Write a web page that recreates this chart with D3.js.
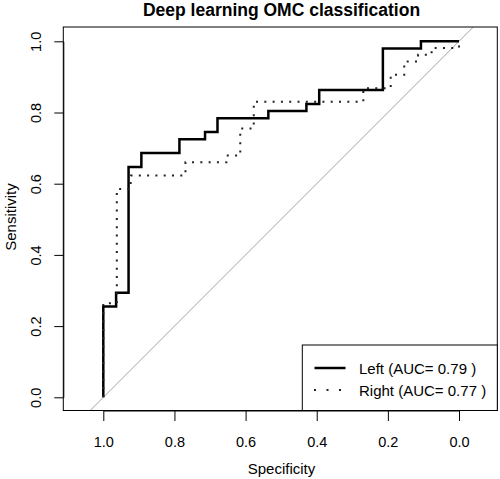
<!DOCTYPE html>
<html>
<head>
<meta charset="utf-8">
<script src="https://cdn.jsdelivr.net/npm/d3@7"></script>
<style>
  html, body { margin: 0; padding: 0; background: #fff; }
  svg { display: block; font-family: "Liberation Sans", Arial, Helvetica, sans-serif; }
</style>
</head>
<body>
<svg id="chart" width="500" height="479"></svg>
<script>
// ---- data ----
const title = "Deep learning OMC classification";
const xLabel = "Specificity";
const yLabel = "Sensitivity";
const tickValues = [1.0, 0.8, 0.6, 0.4, 0.2, 0.0];

const leftSpec = [1, 1, 0.964, 0.964, 0.929, 0.929, 0.893, 0.893, 0.786, 0.786, 0.714, 0.714, 0.679, 0.679, 0.536, 0.536, 0.429, 0.429, 0.393, 0.393, 0.214, 0.214, 0.107, 0.107, 0];
const leftSens = [0, 0.255, 0.255, 0.294, 0.294, 0.647, 0.647, 0.686, 0.686, 0.725, 0.725, 0.745, 0.745, 0.784, 0.784, 0.804, 0.804, 0.824, 0.824, 0.863, 0.863, 0.980, 0.980, 1, 1];

const rightSpec = [1, 1, 0.962, 0.962, 0.923, 0.923, 0.769, 0.769, 0.654, 0.654, 0.615, 0.615, 0.577, 0.577, 0.269, 0.269, 0.192, 0.192, 0.154, 0.154, 0.115, 0.115, 0.077, 0.077, 0, 0];
const rightSens = [0, 0.264, 0.264, 0.585, 0.585, 0.623, 0.623, 0.660, 0.660, 0.679, 0.679, 0.755, 0.755, 0.830, 0.830, 0.868, 0.868, 0.906, 0.906, 0.943, 0.943, 0.962, 0.962, 0.981, 0.981, 1];

const seriesNames = ["Left (AUC= 0.79 )", "Right (AUC= 0.77 )"];

// ---- layout ----
const box = { left: 63.3, right: 497.3, top: 27, bottom: 410.5 };
const svg = d3.select("#chart");

const x = d3.scaleLinear().domain([1, 0]).range([103.3, 459]);
const y = d3.scaleLinear().domain([0, 1]).range([397.3, 41.3]);

svg.append("defs").append("clipPath").attr("id", "plotclip")
  .append("rect")
  .attr("x", box.left).attr("y", box.top)
  .attr("width", box.right - box.left).attr("height", box.bottom - box.top);

// diagonal reference line (sens = 1 - spec)
const diagSpec = [1.3, -0.3];
svg.append("line")
  .attr("clip-path", "url(#plotclip)")
  .attr("x1", x(diagSpec[0])).attr("y1", y(1 - diagSpec[0]))
  .attr("x2", x(diagSpec[1])).attr("y2", y(1 - diagSpec[1]))
  .attr("stroke", "#a3a3a3").attr("stroke-width", 1);

const line = d3.line().x(d => x(d[0])).y(d => y(d[1]));

svg.append("path")
  .datum(leftSpec.map((s, i) => [s, leftSens[i]]))
  .attr("d", line)
  .attr("fill", "none").attr("stroke", "#000").attr("stroke-width", 2.5)
  .attr("stroke-linejoin", "miter");

svg.append("path")
  .datum(rightSpec.map((s, i) => [s, rightSens[i]]))
  .attr("d", line)
  .attr("fill", "none").attr("stroke", "#222").attr("stroke-width", 2)
  .attr("stroke-dasharray", "2,6.3");

// box
svg.append("rect")
  .attr("x", box.left).attr("y", box.top)
  .attr("width", box.right - box.left).attr("height", box.bottom - box.top)
  .attr("fill", "none").attr("stroke", "#000").attr("stroke-width", 1);

// x axis
const fmt = d3.format(".1f");
const gx = svg.append("g").attr("transform", `translate(0,${box.bottom})`)
  .call(d3.axisBottom(x).tickValues(tickValues).tickFormat(fmt).tickSize(10.5).tickSizeOuter(0));
gx.selectAll("text").attr("y", 36.5).attr("dy", null)
  .attr("font-size", 14.5).attr("fill", "#000")
  .attr("font-family", "Liberation Sans, Arial, sans-serif");
gx.selectAll("line").attr("stroke", "#000");
gx.select(".domain").attr("stroke", "#000");

// y axis
const gy = svg.append("g").attr("transform", `translate(${box.left},0)`)
  .call(d3.axisLeft(y).tickValues(tickValues).tickFormat(fmt).tickSize(9).tickSizeOuter(0));
gy.selectAll("text")
  .attr("x", null).attr("dy", null)
  .attr("text-anchor", "middle")
  .attr("transform", "translate(-22.8,0) rotate(-90)")
  .attr("font-size", 14.5).attr("fill", "#000")
  .attr("font-family", "Liberation Sans, Arial, sans-serif");
gy.selectAll("line").attr("stroke", "#000");
gy.select(".domain").attr("stroke", "#000");

// title & axis labels
svg.append("text").attr("x", 281.5).attr("y", 15.5)
  .attr("text-anchor", "middle").attr("font-weight", "bold").attr("font-size", 17.5)
  .text(title);
svg.append("text").attr("x", 281.5).attr("y", 473.5)
  .attr("text-anchor", "middle").attr("font-size", 15)
  .text(xLabel);
svg.append("text").attr("transform", "translate(16,217) rotate(-90)")
  .attr("text-anchor", "middle").attr("font-size", 15)
  .text(yLabel);

// legend
const lg = svg.append("g");
lg.append("rect").attr("x", 302.3).attr("y", 345)
  .attr("width", box.right - 302.3).attr("height", box.bottom - 345)
  .attr("fill", "#fff").attr("stroke", "#000").attr("stroke-width", 1);
const rowsY = [368, 390];
lg.append("line").attr("x1", 314.5).attr("x2", 345.5).attr("y1", rowsY[0]).attr("y2", rowsY[0])
  .attr("stroke", "#000").attr("stroke-width", 2.5);
lg.append("line").attr("x1", 314).attr("x2", 345).attr("y1", rowsY[1]).attr("y2", rowsY[1])
  .attr("stroke", "#222").attr("stroke-width", 2).attr("stroke-dasharray", "2,10.5");
seriesNames.forEach((n, i) => {
  lg.append("text").attr("x", 359).attr("y", rowsY[i] + 5.5)
    .attr("font-size", 15).text(n);
});
</script>
</body>
</html>
